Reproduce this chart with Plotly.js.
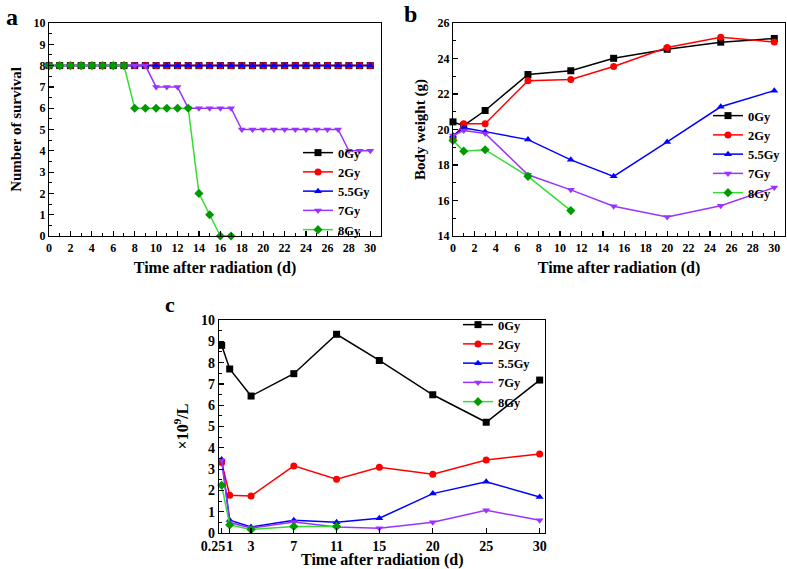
<!DOCTYPE html>
<html>
<head>
<meta charset="utf-8">
<script src="https://cdn.plot.ly/plotly-3.0.1.min.js"></script>
<style>html,body{margin:0;padding:0;background:#fff;}#chart{width:787px;height:569px;}</style>
</head>
<body>
<div id="chart"></div>
<script>
// ---------- DATA ----------
const seriesNames = ["0Gy", "2Gy", "5.5Gy", "7Gy", "8Gy"];

// Panel a: survival
const daysA = [0,1,2,3,4,5,6,7,8,9,10,11,12,13,14,15,16,17,18,19,20,21,22,23,24,25,26,27,28,29,30];
const survival0 = [8,8,8,8,8,8,8,8,8,8,8,8,8,8,8,8,8,8,8,8,8,8,8,8,8,8,8,8,8,8,8];
const survival2 = [8,8,8,8,8,8,8,8,8,8,8,8,8,8,8,8,8,8,8,8,8,8,8,8,8,8,8,8,8,8,8];
const survival55 = [8,8,8,8,8,8,8,8,8,8,8,8,8,8,8,8,8,8,8,8,8,8,8,8,8,8,8,8,8,8,8];
const survival7 = [8,8,8,8,8,8,8,8,8,8,7,7,7,6,6,6,6,6,5,5,5,5,5,5,5,5,5,5,4,4,4];
const days8A = [0,1,2,3,4,5,6,7,8,9,10,11,12,13,14,15,16,17];
const survival8 = [8,8,8,8,8,8,8,8,6,6,6,6,6,6,2,1,0,0];

// Panel b: body weight (g)
const daysB = [0,1,3,7,11,15,20,25,30];
const days8B = [0,1,3,7,11];
const weight0 = [20.43,20.22,21.07,23.1,23.31,24.01,24.52,24.92,25.13];
const weight2 = [19.5,20.33,20.32,22.75,22.82,23.55,24.62,25.2,24.93];
const weight55 = [19.66,20.09,19.88,19.43,18.29,17.36,19.3,21.28,22.19];
const weight7 = [19.66,19.94,19.78,17.45,16.6,15.68,15.07,15.7,16.73];
const weight8 = [19.38,18.78,18.86,17.36,15.43];

// Panel c: counts (x10^9/L)
const daysC = [0.25,1,3,7,11,15,20,25,30];
const days8C = [0.25,1,3,7,11];
const count0 = [8.81,7.7,6.43,7.48,9.33,8.1,6.49,5.2,7.18];
const count2 = [3.31,1.77,1.74,3.15,2.52,3.09,2.76,3.43,3.71];
const count55 = [3.45,0.6,0.28,0.6,0.5,0.69,1.85,2.41,1.69];
const count7 = [3.42,0.49,0.23,0.52,0.28,0.22,0.5,1.07,0.6];
const count8 = [2.24,0.38,0.16,0.31,0.31];
const tickValsC = [0.25,1,3,7,11,15,20,25,30];
const tickTextC = ["0.25\u00a0\u00a0\u00a0\u00a0\u00a0","1","3","7","11","15","20","25","30"];

// ---------- STYLE ----------
const lineColors = ["#000000","#ff0000","#0000ff","#9933ff","#33dd33"];
const markerColors = ["#000000","#ff0000","#0000ff","#9933ff","#009900"];
const symbols = ["square","circle","triangle-up","triangle-down","diamond"];
const serif = "Liberation Serif, Times New Roman, serif";

function mk(x, y, i, xa, ya, lg) {
  return {
    x: x, y: y, type: "scatter", mode: "lines+markers",
    name: seriesNames[i], xaxis: xa, yaxis: ya, legend: lg,
    line: {color: lineColors[i], width: 1.5},
    marker: {symbol: symbols[i], size: 7, color: markerColors[i]},
    cliponaxis: false
  };
}

const traces = [
  mk(daysA, survival0, 0, "x", "y", "legend"),
  mk(daysA, survival2, 1, "x", "y", "legend"),
  mk(daysA, survival55, 2, "x", "y", "legend"),
  mk(daysA, survival7, 3, "x", "y", "legend"),
  mk(days8A, survival8, 4, "x", "y", "legend"),
  mk(daysB, weight0, 0, "x2", "y2", "legend2"),
  mk(daysB, weight2, 1, "x2", "y2", "legend2"),
  mk(daysB, weight55, 2, "x2", "y2", "legend2"),
  mk(daysB, weight7, 3, "x2", "y2", "legend2"),
  mk(days8B, weight8, 4, "x2", "y2", "legend2"),
  mk(daysC, count0, 0, "x3", "y3", "legend3"),
  mk(daysC, count2, 1, "x3", "y3", "legend3"),
  mk(daysC, count55, 2, "x3", "y3", "legend3"),
  mk(daysC, count7, 3, "x3", "y3", "legend3"),
  mk(days8C, count8, 4, "x3", "y3", "legend3")
];

const tickFont = {family: serif, size: 12, color: "#000", weight: "bold"};
const tickFontC = {family: serif, size: 14, color: "#000", weight: "bold"};
const titleFont = {family: serif, size: 16, color: "#000", weight: "bold"};
const titleFontY = {family: serif, size: 15, color: "#000", weight: "bold"};
const legFont = {family: serif, size: 12.5, color: "#000", weight: "bold"};

function axis(extra) {
  return Object.assign({
    showline: true, linecolor: "#000", linewidth: 1.2, mirror: true,
    ticks: "inside", ticklen: 5, tickwidth: 1.2, tickcolor: "#000",
    showgrid: false, zeroline: false, tickfont: tickFont, tickangle: 0
  }, extra);
}
const minorTicks = (d) => ({ticks: "inside", ticklen: 3, tickwidth: 1, dtick: d, tickcolor: "#000", showgrid: false});

const dA = [49/787, 381/787], dB = [453/787, 785/787], dC = [219/787, 545/787];
const yAB = [1-236/569, 1-23/569], yC = [1-533/569, 1-320/569];

const layout = {
  width: 787, height: 569,
  margin: {l: 0, r: 0, t: 0, b: 0},
  paper_bgcolor: "#fff", plot_bgcolor: "#fff",
  showlegend: true,
  xaxis: axis({domain: dA, anchor: "y", range: [0, 31], dtick: 2, tick0: 0, minor: minorTicks(1),
    title: {text: "Time after radiation (d)", font: titleFont, standoff: 8}}),
  yaxis: axis({domain: yAB, anchor: "x", range: [0, 10], dtick: 1, minor: minorTicks(0.5),
    title: {text: "Number of survival", font: titleFontY, standoff: 8}}),
  xaxis2: axis({domain: dB, anchor: "y2", range: [0, 31], dtick: 2, tick0: 0, minor: minorTicks(1),
    title: {text: "Time after radiation (d)", font: titleFont, standoff: 8}}),
  yaxis2: axis({domain: yAB, anchor: "x2", range: [14, 26], dtick: 2, minor: minorTicks(1),
    title: {text: "Body weight (g)", font: titleFontY, standoff: 8}}),
  xaxis3: axis({domain: dC, anchor: "y3", range: [0, 30.5], tickmode: "array", tickvals: tickValsC, ticktext: tickTextC,
    tickfont: tickFontC}),
  yaxis3: axis({domain: yC, anchor: "x3", range: [0, 10], dtick: 1, minor: minorTicks(0.5), tickfont: tickFontC,
    title: {text: "×10<sup>9</sup>/L", font: titleFont, standoff: 8}}),
  legend: {x: 298/787, y: 1-138/569, xanchor: "left", yanchor: "top", bgcolor: "rgba(0,0,0,0)", font: legFont, tracegroupgap: 0, itemwidth: 30},
  legend2: {x: 708/787, y: 1-101/569, xanchor: "left", yanchor: "top", bgcolor: "rgba(0,0,0,0)", font: legFont, tracegroupgap: 0, itemwidth: 30},
  legend3: {x: 458/787, y: 1-310/569, xanchor: "left", yanchor: "top", bgcolor: "rgba(0,0,0,0)", font: legFont, tracegroupgap: 0, itemwidth: 30},
  annotations: [
    {text: "a", x: 4/787, y: 1-17/569, xref: "paper", yref: "paper", xanchor: "left", yanchor: "middle", showarrow: false, font: {family: serif, size: 24, color: "#000", weight: "bold"}},
    {text: "b", x: 402/787, y: 1-14/569, xref: "paper", yref: "paper", xanchor: "left", yanchor: "middle", showarrow: false, font: {family: serif, size: 24, color: "#000", weight: "bold"}},
    {text: "c", x: 163/787, y: 1-304/569, xref: "paper", yref: "paper", xanchor: "left", yanchor: "middle", showarrow: false, font: {family: serif, size: 22, color: "#000", weight: "bold"}},
    {text: "Time after radiation (d)", x: 382/787, y: 0, xref: "paper", yref: "paper", xanchor: "center", yanchor: "bottom", yshift: -1, showarrow: false, borderpad: 0, font: titleFont}
  ]
};

Plotly.newPlot("chart", traces, layout, {displayModeBar: false, staticPlot: true});
</script>
</body>
</html>
